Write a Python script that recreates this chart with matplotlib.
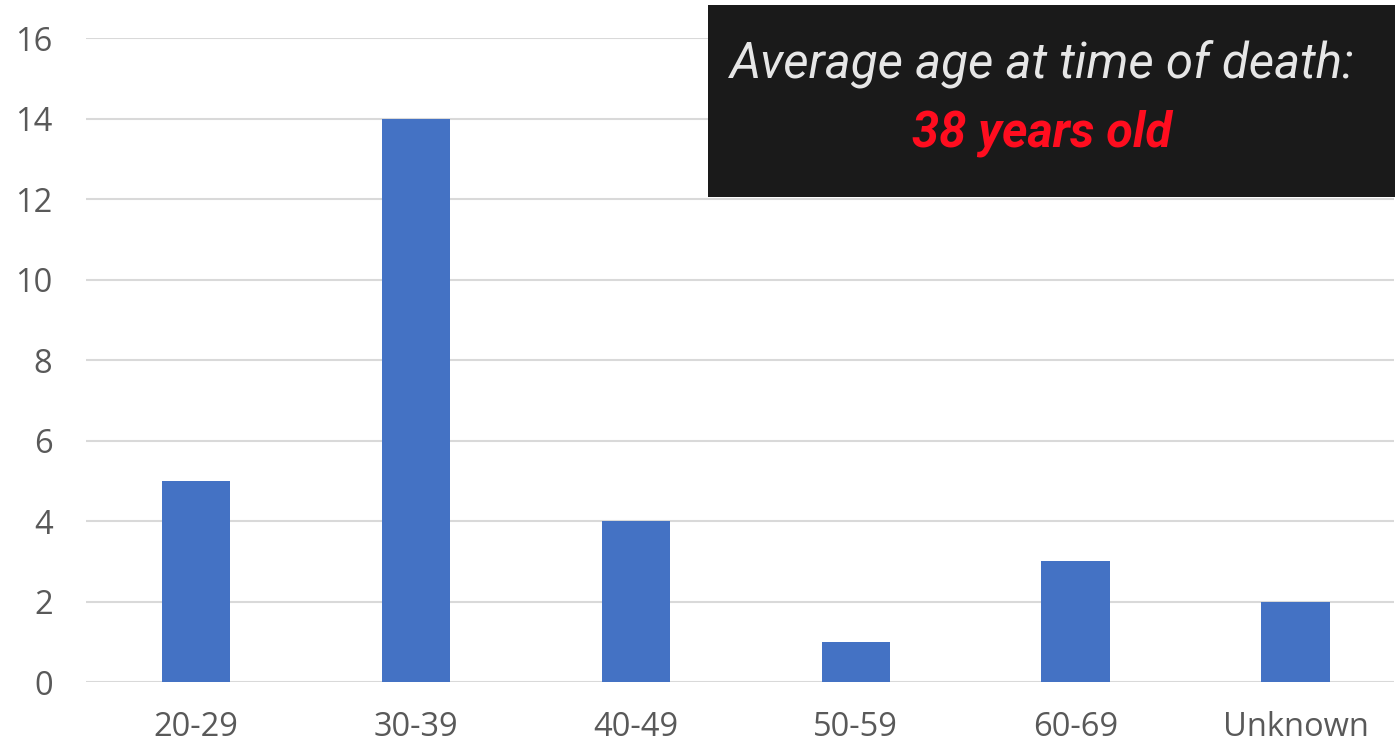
import matplotlib.pyplot as plt
from matplotlib.patches import Rectangle

# chart data
age_groups = ['20-29', '30-39', '40-49', '50-59', '60-69', 'Unknown']
deaths = [5, 14, 4, 1, 3, 2]
y_ticks = [0, 2, 4, 6, 8, 10, 12, 14, 16]
box_title = 'Average age at time of death:'
box_value = '38 years old'

bar_color = '#4472C4'
grid_color = '#d9d9d9'
label_color = '#595959'

fig = plt.figure(figsize=(13.95, 7.44), dpi=100)
ax = fig.add_axes([0.0616, 0.0833, 0.938, 0.8656])

x = range(len(age_groups))
ax.bar(x, deaths, width=0.31, color=bar_color, zorder=3)

ax.set_ylim(0, 16)
ax.set_xlim(-0.5, 5.45)
ax.set_yticks(y_ticks)
ax.set_xticks(list(x))
ax.set_xticklabels(age_groups)
ax.yaxis.grid(True, color=grid_color, linewidth=1.5, zorder=0)

for spine in ax.spines.values():
    spine.set_visible(False)
ax.tick_params(axis='both', length=0, labelsize=23.5, labelcolor=label_color)
ax.tick_params(axis='y', pad=24)
ax.tick_params(axis='x', pad=21)
for lbl in ax.get_xticklabels() + ax.get_yticklabels():
    lbl.set_fontfamily('Open Sans')

# dark annotation box, top right
fig.patches.append(Rectangle((708 / 1395, 1 - 197 / 744), (1395 - 708) / 1395, (197 - 5) / 744,
                             transform=fig.transFigure, facecolor='#1a1a1a',
                             edgecolor='none', zorder=5))
fig.text(1042 / 1395, 1 - 64 / 744, box_title, ha='center', va='center',
         fontsize=35.5, style='italic', color='#e6e6e6', family='Roboto', zorder=6)
fig.text(1042 / 1395, 1 - 133 / 744, box_value, ha='center', va='center',
         fontsize=35, style='italic', weight='bold', color='#ff0d1f', family='Roboto', zorder=6)

fig.savefig('out.png', dpi=100)
